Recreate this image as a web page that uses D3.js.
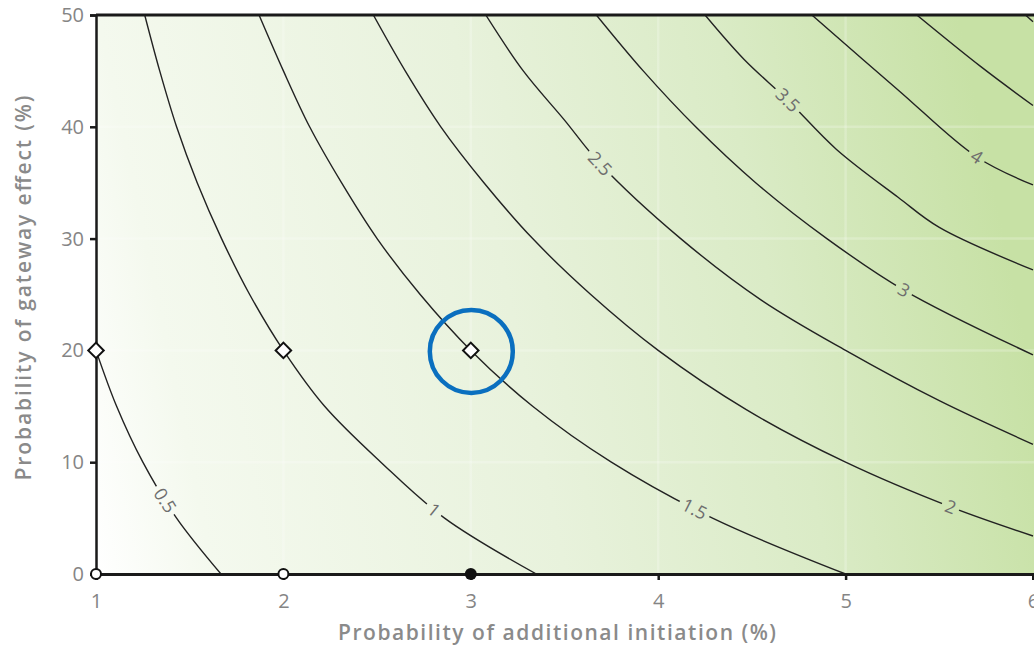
<!DOCTYPE html>
<html>
<head>
<meta charset="utf-8">
<script src="https://cdn.jsdelivr.net/npm/d3@7"></script>
<style>
  html, body { margin: 0; padding: 0; background: #ffffff; overflow: hidden; }
  svg { display: block; }
</style>
</head>
<body>
<svg id="chart" width="1034" height="646"></svg>
<script>
// ---- data -------------------------------------------------------------
const xTicks = [1, 2, 3, 4, 5, 6];
const yTicks = [0, 10, 20, 30, 40, 50];

const contourLevels = [0.5, 1, 1.5, 2, 2.5, 3, 3.5, 4, 4.5, 5];

// [initiation %, gateway %] points along each contour line
const level05 = [[1.667, 0], [1.43, 5], [1.25, 10], [1.11, 15], [1.0, 20]];
const level10 = [[3.35, 0], [2.86, 5], [2.52, 10], [2.22, 15], [2.0, 20], [1.82, 25], [1.67, 30], [1.54, 35], [1.43, 40], [1.34, 45], [1.26, 50]];
const level15 = [[5.0, 0], [4.29, 5], [3.75, 10], [3.33, 15], [3.0, 20], [2.73, 25], [2.5, 30], [2.31, 35], [2.14, 40], [2.0, 45], [1.87, 50]];
const level20 = [[6.0, 3.4], [5.56, 6], [5.0, 10], [4.47, 14.7], [4.0, 20], [3.64, 25], [3.33, 30], [3.07, 35], [2.84, 40], [2.65, 45], [2.48, 50]];
const level25 = [[6.0, 11.6], [5.5, 15.5], [5.0, 20], [4.55, 24.5], [4.12, 30], [3.69, 36.7], [3.5, 40.6], [3.28, 45], [3.08, 50]];
const level30 = [[6.0, 19.6], [5.31, 25.4], [4.9, 30], [4.52, 35], [4.2, 40], [3.92, 45], [3.67, 50]];
const level35 = [[6.0, 27.2], [5.5, 31], [5.28, 33.7], [4.95, 38], [4.69, 42.4], [4.46, 46], [4.25, 50]];
const level40 = [[6.0, 34.8], [5.7, 37.3], [5.28, 43.3], [4.82, 50]];
const level45 = [[6.0, 41.9], [5.72, 45.4], [5.38, 50]];
const level50 = [[6.0, 49.4], [5.96, 50]];
const contourLines = [level05, level10, level15, level20, level25, level30, level35, level40, level45, level50];

// inline contour labels: level and approximate spot on its line
const labelLevels = [0.5, 1, 1.5, 2, 2.5, 3, 3.5, 4];
const labelX = [1.37, 2.80, 4.20, 5.56, 3.69, 5.31, 4.69, 5.70];
const labelY = [6.6, 5.7, 6.0, 6.0, 36.7, 25.4, 42.4, 37.3];

// scenario markers
const diamondPoints = [[1, 20], [2, 20], [3, 20]];
const openCirclePoints = [[1, 0], [2, 0]];
const filledCirclePoints = [[3, 0]];
const highlightPoint = [3, 20];

// ---- layout -----------------------------------------------------------
const svg = d3.select("#chart");
const plotLeft = 96, plotRight = 1033, plotTop = 15, plotBottom = 574, viewRight = 1034;

const x = d3.scaleLinear().domain([1, 6]).range([plotLeft, plotRight]);
const y = d3.scaleLinear().domain([0, 50]).range([plotBottom, plotTop]);

const defs = svg.append("defs");

// background shading: pale at lower left, green toward upper right
const grad = defs.append("linearGradient")
  .attr("id", "bgGrad")
  .attr("gradientUnits", "userSpaceOnUse")
  .attr("x1", plotLeft).attr("y1", plotBottom)
  .attr("x2", viewRight).attr("y2", 380);
[[0, "#ffffff"], [0.12, "#f4f9ee"], [0.48, "#e8f2dc"], [0.75, "#daebc6"], [1, "#c7e1a5"]]
  .forEach(([o, c]) => grad.append("stop").attr("offset", o).attr("stop-color", c));

defs.append("clipPath").attr("id", "plotClip")
  .append("rect").attr("x", plotLeft).attr("y", plotTop)
  .attr("width", viewRight - plotLeft).attr("height", plotBottom - plotTop);

svg.append("rect")
  .attr("x", plotLeft).attr("y", plotTop)
  .attr("width", viewRight - plotLeft).attr("height", plotBottom - plotTop)
  .attr("fill", "url(#bgGrad)");

// faint grid
const grid = svg.append("g").attr("clip-path", "url(#plotClip)");
grid.selectAll("line.gx").data(xTicks.slice(1, -1)).join("line")
  .attr("class", "gx")
  .attr("x1", d => x(d)).attr("x2", d => x(d))
  .attr("y1", plotTop).attr("y2", plotBottom)
  .attr("stroke", "#ffffff").attr("stroke-opacity", 0.22).attr("stroke-width", 2.5);
grid.selectAll("line.gy").data(yTicks.slice(1, -1)).join("line")
  .attr("class", "gy")
  .attr("y1", d => y(d)).attr("y2", d => y(d))
  .attr("x1", plotLeft).attr("x2", viewRight)
  .attr("stroke", "#ffffff").attr("stroke-opacity", 0.22).attr("stroke-width", 2.5);

// ---- contours ---------------------------------------------------------
const line = d3.line()
  .x(d => x(d[0])).y(d => y(d[1]))
  .curve(d3.curveCatmullRom.alpha(0.5));

const mask = defs.append("mask").attr("id", "labelMask")
  .attr("maskUnits", "userSpaceOnUse")
  .attr("x", 0).attr("y", 0).attr("width", 1034).attr("height", 646);
mask.append("rect").attr("x", 0).attr("y", 0).attr("width", 1034).attr("height", 646).attr("fill", "#fff");

const contourG = svg.append("g").attr("clip-path", "url(#plotClip)");
const linesG = contourG.append("g").attr("mask", "url(#labelMask)");
const paths = linesG.selectAll("path").data(contourLines).join("path")
  .attr("d", line)
  .attr("fill", "none")
  .attr("stroke", "#222")
  .attr("stroke-width", 1.4);

const labelG = svg.append("g");
labelLevels.forEach((lv, i) => {
  const node = paths.nodes()[contourLevels.indexOf(lv)];
  const total = node.getTotalLength();
  const tx = x(labelX[i]), ty = y(labelY[i]);
  let best = 0, bestD = Infinity;
  for (let s = 0; s <= total; s += 0.5) {
    const p = node.getPointAtLength(s);
    const dd = (p.x - tx) ** 2 + (p.y - ty) ** 2;
    if (dd < bestD) { bestD = dd; best = s; }
  }
  const c = node.getPointAtLength(best);
  const a = node.getPointAtLength(Math.max(0, best - 6));
  const b = node.getPointAtLength(Math.min(total, best + 6));
  let ang = Math.atan2(b.y - a.y, b.x - a.x) * 180 / Math.PI;
  if (ang > 90) ang -= 180;
  if (ang < -90) ang += 180;

  const t = labelG.append("text")
    .attr("transform", `translate(${c.x},${c.y}) rotate(${ang})`)
    .attr("text-anchor", "middle")
    .attr("dy", "0.35em")
    .attr("font-family", "'Open Sans', 'DejaVu Sans', sans-serif")
    .attr("font-size", 18)
    .attr("fill", "#6e6e6e")
    .text(String(lv));
  const w = t.node().getComputedTextLength() + 8;
  mask.append("rect")
    .attr("x", -w / 2).attr("y", -8).attr("width", w).attr("height", 16)
    .attr("transform", `translate(${c.x},${c.y}) rotate(${ang})`)
    .attr("fill", "#000");
});

// ---- axes -------------------------------------------------------------
const tickFont = "'Open Sans', 'DejaVu Sans', sans-serif";

const yAxis = svg.append("g")
  .attr("transform", `translate(${plotLeft},0)`)
  .call(d3.axisLeft(y).tickValues(yTicks).tickFormat(d3.format("d")).tickSize(6).tickPadding(6));
yAxis.select(".domain").attr("stroke", "#1a1a1a").attr("stroke-width", 2.5);
yAxis.selectAll(".tick line").attr("stroke", "#1a1a1a").attr("stroke-width", 2.5);
yAxis.selectAll(".tick text")
  .attr("font-family", tickFont).attr("font-size", 20).attr("fill", "#858585");

const xAxis = svg.append("g")
  .attr("transform", `translate(0,${plotBottom})`)
  .call(d3.axisBottom(x).tickValues(xTicks).tickFormat(d3.format("d")).tickSize(6).tickPadding(14));
xAxis.select(".domain").attr("stroke", "#1a1a1a").attr("stroke-width", 3);
xAxis.selectAll(".tick line").attr("stroke", "#1a1a1a").attr("stroke-width", 2.5);
xAxis.selectAll(".tick text")
  .attr("font-family", tickFont).attr("font-size", 20).attr("fill", "#858585");

// top frame
svg.append("line")
  .attr("x1", plotLeft).attr("x2", viewRight)
  .attr("y1", y(50)).attr("y2", y(50))
  .attr("stroke", "#1a1a1a").attr("stroke-width", 3);

// axis titles
svg.append("text")
  .attr("x", 557).attr("y", 640)
  .attr("text-anchor", "middle")
  .attr("font-family", tickFont).attr("font-size", 21).attr("font-weight", 600)
  .attr("fill", "#8a8a8a")
  .attr("textLength", 438).attr("lengthAdjust", "spacing")
  .text("Probability of additional initiation (%)");

svg.append("text")
  .attr("transform", "translate(31,288) rotate(-90)")
  .attr("text-anchor", "middle")
  .attr("font-family", tickFont).attr("font-size", 21).attr("font-weight", 600)
  .attr("fill", "#8a8a8a")
  .attr("textLength", 385).attr("lengthAdjust", "spacing")
  .text("Probability of gateway effect (%)");

// ---- markers ----------------------------------------------------------
const markG = svg.append("g");
markG.selectAll("path.diamond").data(diamondPoints).join("path")
  .attr("class", "diamond")
  .attr("d", d3.symbol(d3.symbolSquare, 120)())
  .attr("transform", d => `translate(${x(d[0])},${y(d[1])}) rotate(45)`)
  .attr("fill", "#ffffff").attr("stroke", "#111").attr("stroke-width", 2);

markG.selectAll("circle.open").data(openCirclePoints).join("circle")
  .attr("class", "open")
  .attr("cx", d => x(d[0])).attr("cy", d => y(d[1])).attr("r", 5)
  .attr("fill", "#ffffff").attr("stroke", "#111").attr("stroke-width", 2);

markG.selectAll("circle.filled").data(filledCirclePoints).join("circle")
  .attr("class", "filled")
  .attr("cx", d => x(d[0])).attr("cy", d => y(d[1])).attr("r", 6)
  .attr("fill", "#111");

svg.append("circle")
  .attr("cx", x(highlightPoint[0]) + 0.5).attr("cy", y(highlightPoint[1]) + 1)
  .attr("r", 41.5)
  .attr("fill", "none")
  .attr("stroke", "#0a6fbf")
  .attr("stroke-width", 4.5);
</script>
</body>
</html>
